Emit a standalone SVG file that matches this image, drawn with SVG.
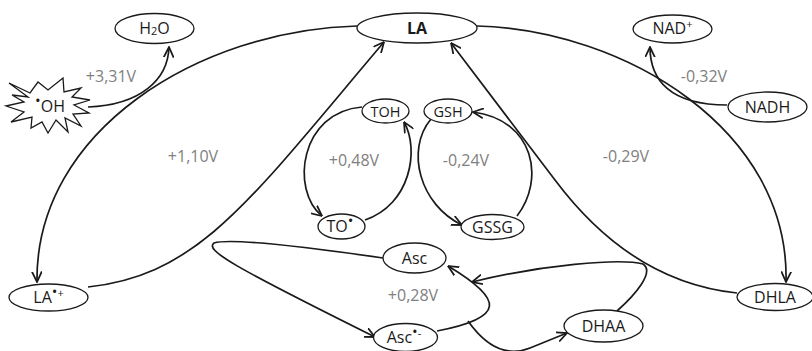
<svg xmlns="http://www.w3.org/2000/svg" width="812" height="351" viewBox="0 0 812 351">
<defs>
<marker id="arr" viewBox="0 0 10 10" refX="9.5" refY="5" markerWidth="11" markerHeight="11" markerUnits="userSpaceOnUse" orient="auto">
<path d="M0,0.5 L9.5,5 L0,9.5" fill="none" stroke="#1a1a1a" stroke-width="1.6"/>
</marker>
<style>
.c{fill:none;stroke:#1a1a1a;stroke-width:1.7}
.n{fill:#fff;stroke:#1a1a1a;stroke-width:1.3}
.t{font-family:"Open Sans","DejaVu Sans",sans-serif;font-size:16px;fill:#1a1a1a;text-anchor:middle}
.v{font-family:"Open Sans","DejaVu Sans",sans-serif;font-size:16px;fill:#808080;text-anchor:middle}
.s{font-size:11px}
.b{font-size:15px}
</style>
</defs>
<rect width="812" height="351" fill="#fff"/>
<g id="connectors">
<path class="c" d="M357,26 C 200,30 35,130 37,282" marker-end="url(#arr)"/>
<path class="c" d="M477,26 C 625,30 790,130 786,282" marker-end="url(#arr)"/>
<path class="c" d="M88,287 C 200,275 250,200 384,42" marker-end="url(#arr)"/>
<path class="c" d="M737,293 C 660,285 600,240 555,180 L 451,43" marker-end="url(#arr)"/>
<path class="c" d="M383,258 C 300,246 230,238 214,243 C 205,250 230,265 375,337" marker-end="url(#arr)"/>
<path class="c" d="M362,107 C 300,112 290,190 322,216" marker-end="url(#arr)"/>
<path class="c" d="M365,220 C 410,205 420,150 404,122" marker-end="url(#arr)"/>
<path class="c" d="M431,119 C 405,150 420,205 462,225" marker-end="url(#arr)"/>
<path class="c" d="M517,216 C 545,180 535,120 473,112" marker-end="url(#arr)"/>
<path class="c" d="M437,331 C 505,318 505,300 448,266" marker-end="url(#arr)"/>
<path class="c" d="M468,321 C 485,345 505,358 530,348 L 567,333" marker-end="url(#arr)"/>
<path class="c" d="M617,311 C 635,295 655,272 643,264 C 620,258 540,265 472,282" marker-end="url(#arr)"/>
<path class="c" d="M88,107 C 140,105 168,80 169,47" marker-end="url(#arr)"/>
<path class="c" d="M727,105 C 670,105 650,80 650,47" marker-end="url(#arr)"/>
</g>
<g id="labels">
<text class="v" x="111" y="82">+3,31V</text>
<text class="v" x="193" y="162">+1,10V</text>
<text class="v" x="354" y="166">+0,48V</text>
<text class="v" x="466" y="166">-0,24V</text>
<text class="v" x="626" y="162">-0,29V</text>
<text class="v" x="704" y="82">-0,32V</text>
<text class="v" x="413" y="301">+0,28V</text>
</g>
<g id="n-OH">
<polygon class="n" points="9,83 30,93 38,82 48,90 63,78 64,92 81,88 72,97 90,100 74,105 89,113 73,114 81,126 65,118 68,132 56,120 48,133 42,122 31,128 32,117 11,122 24,112 6,106 24,102 12,95 28,97"/>
<text class="t" x="50" y="112"><tspan class="b" dy="-6">•</tspan><tspan dy="6">OH</tspan></text>
</g>
<g id="n-H2O">
<ellipse class="n" cx="154.5" cy="28.5" rx="39.5" ry="15"/>
<text class="t" x="154.5" y="34">H<tspan class="s" dy="1">2</tspan><tspan dy="-1">O</tspan></text>
</g>
<g id="n-LA">
<ellipse class="n" cx="417" cy="28" rx="60" ry="15"/>
<text class="t" x="417" y="34" font-weight="bold">LA</text>
</g>
<g id="n-NADp">
<ellipse class="n" cx="672.5" cy="29" rx="39.5" ry="14"/>
<text class="t" x="672.5" y="34">NAD<tspan class="s" dy="-6">+</tspan></text>
</g>
<g id="n-NADH">
<ellipse class="n" cx="767.5" cy="107" rx="39.5" ry="15"/>
<text class="t" x="767.5" y="113">NADH</text>
</g>
<g id="n-TOH">
<ellipse class="n" cx="385.5" cy="111" rx="23.5" ry="12"/>
<text class="t" x="385.5" y="116.5" style="font-size:14.5px">TOH</text>
</g>
<g id="n-GSH">
<ellipse class="n" cx="448" cy="111" rx="24" ry="12"/>
<text class="t" x="448" y="116.5" style="font-size:14.5px">GSH</text>
</g>
<g id="n-TO">
<ellipse class="n" cx="341.5" cy="226.5" rx="23.5" ry="12.5"/>
<text class="t" x="340" y="232">TO<tspan class="b" dy="-6">•</tspan></text>
</g>
<g id="n-GSSG">
<ellipse class="n" cx="492.5" cy="227" rx="31.5" ry="12.5"/>
<text class="t" x="492.5" y="232.5">GSSG</text>
</g>
<g id="n-LArad">
<ellipse class="n" cx="48.5" cy="297.5" rx="39.5" ry="13.5"/>
<text class="t" x="48.5" y="303">LA<tspan class="b" dy="-6">•</tspan><tspan class="s">+</tspan></text>
</g>
<g id="n-DHLA">
<ellipse class="n" cx="775" cy="297" rx="38" ry="13.5"/>
<text class="t" x="775" y="302.5">DHLA</text>
</g>
<g id="n-Asc">
<ellipse class="n" cx="414.5" cy="258" rx="31.5" ry="15"/>
<text class="t" x="414.5" y="263.5">Asc</text>
</g>
<g id="n-Ascrad">
<ellipse class="n" cx="405.5" cy="337.5" rx="32" ry="14"/>
<text class="t" x="404" y="343">Asc<tspan class="b" dy="-6">•</tspan><tspan class="s">-</tspan></text>
</g>
<g id="n-DHAA">
<ellipse class="n" cx="603.5" cy="326" rx="39.5" ry="16"/>
<text class="t" x="603.5" y="331.5">DHAA</text>
</g>
</svg>
